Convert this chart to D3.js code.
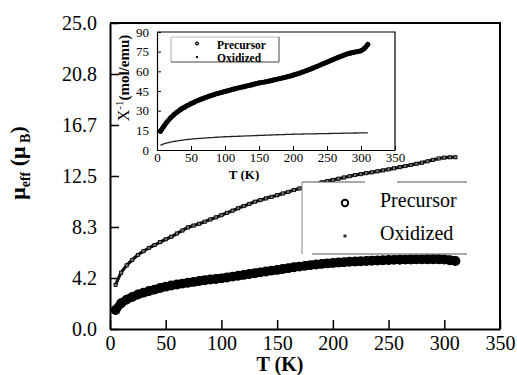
<!DOCTYPE html>
<html><head><meta charset="utf-8">
<script src="https://cdn.jsdelivr.net/npm/d3@7"></script>
<style>body{margin:0;background:#fff}svg{display:block}svg text{font-family:"Liberation Serif",Tinos,"Times New Roman",serif}</style>
</head><body>
<svg id="c" width="517" height="375"></svg>
<script>
// ---- data ----
const temps = [5,10,15,20,25,30,35,40,45,50,55,60,65,70,75,80,85,90,95,100,105,110,115,120,125,130,135,140,145,150,155,160,165,170,175,180,185,190,195,200,205,210,215,220,225,230,235,240,245,250,255,260,265,270,275,280,285,290,295,300,305,310];
const muPrecursor = [1.55,2.1,2.4,2.62,2.82,2.97,3.1,3.22,3.35,3.46,3.55,3.63,3.71,3.78,3.85,3.92,3.98,4.04,4.09,4.14,4.21,4.28,4.35,4.42,4.49,4.56,4.63,4.7,4.77,4.83,4.9,4.97,5.04,5.1,5.16,5.22,5.27,5.32,5.36,5.4,5.43,5.46,5.49,5.51,5.53,5.56,5.58,5.6,5.62,5.64,5.65,5.66,5.67,5.68,5.69,5.69,5.7,5.7,5.7,5.68,5.62,5.55];
const muOxidized = [3.6,4.6,5.2,5.65,6.05,6.35,6.62,6.86,7.1,7.33,7.54,7.8,8.05,8.3,8.45,8.6,8.77,8.95,9.12,9.3,9.49,9.67,9.86,10.04,10.22,10.4,10.53,10.67,10.8,10.93,11.07,11.2,11.35,11.48,11.58,11.72,11.85,11.98,12.08,12.18,12.28,12.38,12.48,12.58,12.65,12.73,12.8,12.88,12.96,13.04,13.13,13.22,13.31,13.4,13.5,13.59,13.7,13.82,13.93,14.0,14.03,14.03];
const chiInvPrecursor = [14.3,18,21.5,24.5,27,29,31,32.5,34,35.3,36.5,37.7,38.8,39.8,40.7,41.6,42.5,43.2,43.9,44.6,45.3,46,46.7,47.4,48,48.6,49.2,49.8,50.5,51.1,51.6,52,52.6,53.2,53.8,54.4,55,55.6,56.3,57,57.8,58.7,59.6,60.6,61.6,62.6,63.7,64.8,65.9,67,68.1,69.2,70.3,71.4,72.4,73.3,74,74.6,75.1,75.7,77.5,80.5];
const chiInvOxidized = [3.6,4.6,5.4,6.0,6.5,7.0,7.4,7.7,8.0,8.3,8.5,8.7,8.9,9.1,9.3,9.5,9.65,9.8,9.95,10.1,10.2,10.3,10.4,10.5,10.6,10.7,10.8,10.9,11.0,11.1,11.2,11.3,11.4,11.5,11.6,11.7,11.8,11.85,11.9,12.0,12.05,12.1,12.2,12.25,12.3,12.35,12.4,12.45,12.5,12.55,12.6,12.65,12.7,12.75,12.8,12.85,12.9,12.95,13.0,13.05,13.1,13.1];
const seriesNames = ["Precursor","Oxidized"];
const mainXTicks = [0,50,100,150,200,250,300,350];
const mainYTickLabels = ["0.0","4.2","8.3","12.5","16.7","20.8","25.0"];
const insetXTicks = [0,50,100,150,200,250,300,350];
const insetYTicks = [0,15,30,45,60,75,90];

// ---- drawing ----
const svg = d3.select("#c");
const serif = '"Liberation Serif",Tinos,"Times New Roman",serif';

const x = d3.scaleLinear().domain([0,350]).range([110,500]);
const y = d3.scaleLinear().domain([0,25]).range([329,23]);
const xi = d3.scaleLinear().domain([0,350]).range([157,395]);
const yi = d3.scaleLinear().domain([0,90]).range([150,32]);

const main = svg.append("g");
main.append("path").attr("d",`M${x(0)},${y(25)}H${x(350)}V${y(0)}`).attr("fill","none").attr("stroke","#000").attr("stroke-width",2);

const yTickVals = mainYTickLabels.map((d,i)=>i*25/6);
const gy = main.append("g").attr("transform",`translate(${x(0)},0)`)
  .call(d3.axisLeft(y).tickValues(yTickVals).tickFormat((d,i)=>mainYTickLabels[i]).tickSizeInner(-9).tickSizeOuter(0).tickPadding(13));
const gx = main.append("g").attr("transform",`translate(0,${y(0)})`)
  .call(d3.axisBottom(x).tickValues(mainXTicks).tickFormat(d3.format("d")).tickSizeInner(-9).tickSizeOuter(0).tickPadding(7));
[gy,gx].forEach(g=>{
  g.attr("font-family",null);
  g.select(".domain").attr("stroke-width",2);
  g.selectAll(".tick line").attr("stroke-width",1.5);
  g.selectAll("text").style("font-family",serif).attr("font-size",20).attr("fill","#000");
});

// main series
const lineMain = (vals)=>d3.line().x((d,i)=>x(temps[i])).y(d=>y(d)).curve(d3.curveMonotoneX)(vals);
main.append("path").attr("d",lineMain(muPrecursor)).attr("fill","none").attr("stroke","#000").attr("stroke-width",8.5).attr("stroke-linecap","round");
main.append("g").selectAll("circle").data(muPrecursor).join("circle")
  .attr("cx",(d,i)=>x(temps[i])).attr("cy",d=>y(d)).attr("r",4.2).attr("fill","#000").attr("stroke","#000").attr("stroke-width",1.5);
main.append("path").attr("d",lineMain(muOxidized)).attr("fill","none").attr("stroke","#111").attr("stroke-width",3.2);
main.append("g").selectAll("rect").data(muOxidized).join("rect")
  .attr("x",(d,i)=>x(temps[i])-1.6).attr("y",d=>y(d)-1.6).attr("width",3.2).attr("height",3.2)
  .attr("fill","#777").attr("stroke","#000").attr("stroke-width",0.8);

// main legend
const lg = main.append("g");
lg.append("rect").attr("x",302).attr("y",182).attr("width",165).attr("height",72).attr("fill","#fff").attr("stroke","none");
lg.append("line").attr("x1",302).attr("x2",302).attr("y1",182).attr("y2",254).attr("stroke","#999").attr("stroke-width",1.2);
lg.append("line").attr("x1",302).attr("x2",365).attr("y1",182).attr("y2",182).attr("stroke","#555").attr("stroke-width",1);
lg.append("line").attr("x1",397).attr("x2",467).attr("y1",182).attr("y2",182).attr("stroke","#555").attr("stroke-width",1);
lg.append("line").attr("x1",312).attr("x2",467).attr("y1",254).attr("y2",254).attr("stroke","#555").attr("stroke-width",1);
lg.append("circle").attr("cx",345).attr("cy",203).attr("r",3.2).attr("fill","#fff").attr("stroke","#000").attr("stroke-width",2);
lg.append("rect").attr("x",343.5).attr("y",234.5).attr("width",3).attr("height",3).attr("fill","#333");
lg.selectAll("text").data(seriesNames).join("text")
  .attr("x",380).attr("y",(d,i)=>207+i*33).text(d=>d)
  .style("font-family",serif).attr("font-size",20).attr("fill","#000");

// axis titles
main.append("text").attr("x",280).attr("y",371).attr("text-anchor","middle")
  .style("font-family",serif).attr("font-weight","bold").attr("font-size",20).text("T (K)");
const yt = main.append("text").attr("transform","translate(25,163) rotate(-90)").attr("text-anchor","middle")
  .style("font-family",serif).attr("font-weight","bold").attr("font-size",22);
yt.append("tspan").text("μ");
yt.append("tspan").attr("font-size",14).attr("dy",5).text("eff");
yt.append("tspan").attr("dy",-5).text("  (μ");
yt.append("tspan").attr("font-size",14).attr("dy",5).text(" B");
yt.append("tspan").attr("dy",-5).text(")");

// ---- inset ----
const ins = svg.append("g");
ins.append("path").attr("d",`M${xi(0)},${yi(90)}H${xi(350)}V${yi(0)}`).attr("fill","none").attr("stroke","#000").attr("stroke-width",1.2);
const giy = ins.append("g").attr("transform",`translate(${xi(0)},0)`)
  .call(d3.axisLeft(yi).tickValues(insetYTicks).tickFormat(d3.format("d")).tickSizeInner(-4).tickSizeOuter(0).tickPadding(8));
const gix = ins.append("g").attr("transform",`translate(0,${yi(0)})`)
  .call(d3.axisBottom(xi).tickValues(insetXTicks).tickFormat(d3.format("d")).tickSizeInner(-4).tickSizeOuter(0).tickPadding(3));
[giy,gix].forEach(g=>{
  g.attr("font-family",null);
  g.select(".domain").attr("stroke-width",1.2);
  g.selectAll(".tick line").attr("stroke-width",1);
  g.selectAll("text").style("font-family",serif).attr("font-size",13).attr("fill","#000");
});
const lineIn = (vals)=>d3.line().x((d,i)=>xi(temps[i])).y(d=>yi(d)).curve(d3.curveMonotoneX)(vals);
ins.append("path").attr("d",lineIn(chiInvPrecursor)).attr("fill","none").attr("stroke","#000").attr("stroke-width",5).attr("stroke-linecap","round");
ins.append("g").selectAll("circle").data(chiInvPrecursor).join("circle")
  .attr("cx",(d,i)=>xi(temps[i])).attr("cy",d=>yi(d)).attr("r",2.4).attr("fill","#000");
ins.append("path").attr("d",lineIn(chiInvOxidized)).attr("fill","none").attr("stroke","#222").attr("stroke-width",1.3);

// inset legend
const il = ins.append("g");
il.append("line").attr("x1",171).attr("x2",171).attr("y1",37).attr("y2",62).attr("stroke","#aaa");
il.append("line").attr("x1",171).attr("x2",279).attr("y1",37).attr("y2",37).attr("stroke","#bbb");
il.append("line").attr("x1",171).attr("x2",279).attr("y1",62).attr("y2",62).attr("stroke","#444");
il.append("line").attr("x1",279).attr("x2",279).attr("y1",37).attr("y2",62).attr("stroke","#444");
il.append("circle").attr("cx",197).attr("cy",43.5).attr("r",1.4).attr("fill","none").attr("stroke","#000").attr("stroke-width",1.2);
il.append("rect").attr("x",196).attr("y",56).attr("width",2).attr("height",2).attr("fill","#000");
il.selectAll("text").data(seriesNames).join("text")
  .attr("x",217).attr("y",(d,i)=>49+i*12.5).text(d=>d)
  .style("font-family",serif).attr("font-weight","bold").attr("font-size",11.5).attr("fill","#000");

ins.append("text").attr("x",244).attr("y",179).attr("text-anchor","middle")
  .style("font-family",serif).attr("font-weight","bold").attr("font-size",13).text("T (K)");
const it = ins.append("text").attr("transform","translate(129,78) rotate(-90)").attr("text-anchor","middle")
  .style("font-family",serif).attr("font-size",16);
it.append("tspan").text("X");
it.append("tspan").attr("font-size",11).attr("dy",-6).text("-1");
it.append("tspan").attr("dy",6).attr("font-weight","bold").attr("font-size",15).text("(mol/emu)");
</script>
</body></html>
